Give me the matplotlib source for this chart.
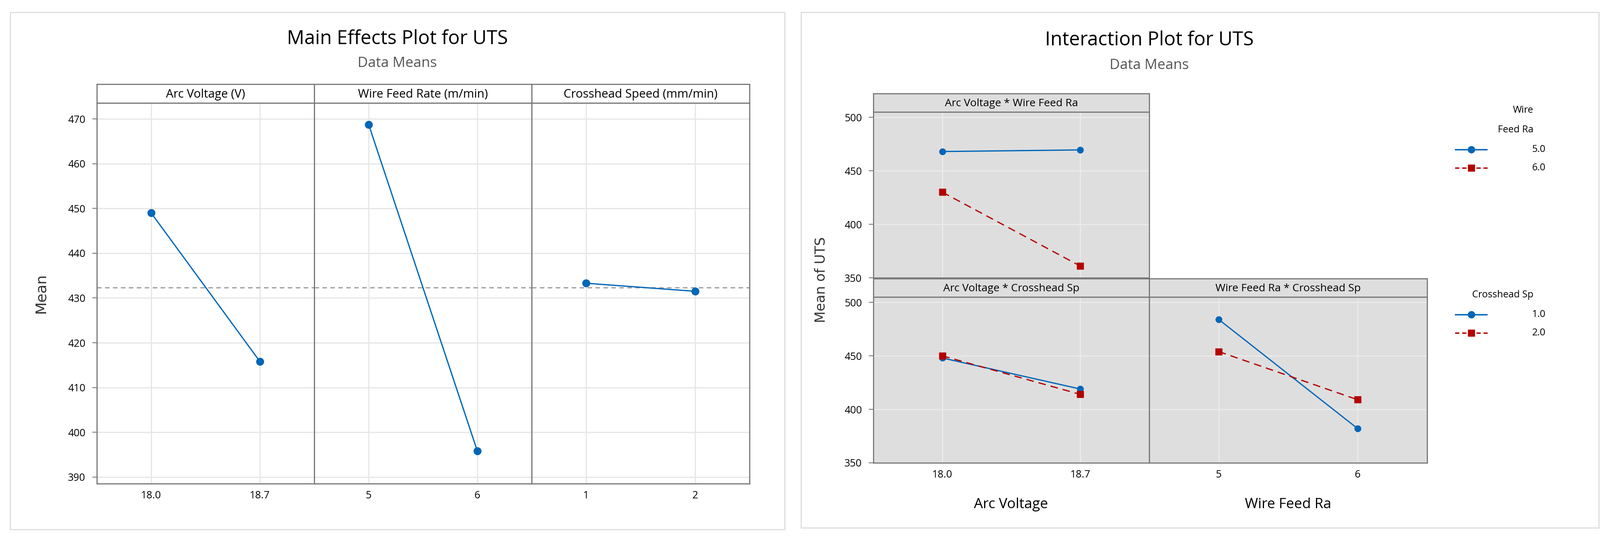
import matplotlib.pyplot as plt
from matplotlib.patches import Rectangle

plt.rcParams['font.family'] = 'Open Sans'

# ---- data: main effects
me_factors = ['Arc Voltage (V)', 'Wire Feed Rate (m/min)', 'Crosshead Speed (mm/min)']
me_levels = [['18.0', '18.7'], ['5', '6'], ['1', '2']]
me_means = [[449.0, 415.8], [468.8, 395.8], [433.3, 431.5]]
grand_mean = 432.3
me_yticks = [390, 400, 410, 420, 430, 440, 450, 460, 470]

# ---- data: interaction
ia_titles = ['Arc Voltage * Wire Feed Ra', 'Arc Voltage * Crosshead Sp', 'Wire Feed Ra * Crosshead Sp']
ia_xlevels = [['18.0', '18.7'], ['18.0', '18.7'], ['5', '6']]
ia_blue = [[468.0, 469.5], [448.0, 419.0], [484.0, 382.0]]
ia_red = [[430.0, 361.0], [450.0, 414.0], [454.0, 409.0]]
wire_labels = ['5.0', '6.0']
cross_labels = ['1.0', '2.0']
ia_yticks = [350, 400, 450, 500]

W, H = 3916, 1317
BLUE = '#0066B8'
RED = '#B30000'
fig = plt.figure(figsize=(W / 100, H / 100), dpi=100)


def px(x0, y0, x1, y1):
    return [x0 / W, 1 - y1 / H, (x1 - x0) / W, (y1 - y0) / H]


# outer borders
for (x0, y0, x1, y1) in [(25, 30, 1920, 1296), (1960, 30, 3912, 1292)]:
    fig.patches.append(Rectangle((x0 / W, 1 - y1 / H), (x1 - x0) / W, (y1 - y0) / H,
                                 transform=fig.transFigure, fill=False, ec='#DDDDDD', lw=2))

# ---------------- main effects
fig.text(972 / W, 1 - 95 / H, 'Main Effects Plot for UTS', ha='center', va='center', fontsize=34)
fig.text(972 / W, 1 - 155 / H, 'Data Means', ha='center', va='center', fontsize=25, color='#555555')
fig.text(100 / W, 1 - 718 / H, 'Mean', rotation=90, ha='center', va='center', fontsize=26,
         family='DejaVu Sans', color='#333333')

px_edges = [237, 769, 1301, 1834]
for i in range(3):
    ax = fig.add_axes(px(px_edges[i], 252, px_edges[i + 1], 1184))
    ax.plot([0, 1], me_means[i], color=BLUE, lw=2.2, marker='o', ms=13, zorder=3)
    ax.axhline(grand_mean, color='#999999', ls=(0, (4, 3)), lw=2)
    ax.set_xlim(-0.5, 1.5)
    ax.set_ylim(388.5, 473.6)
    ax.set_xticks([0, 1])
    ax.set_xticklabels(me_levels[i], fontsize=18)
    ax.set_yticks(me_yticks)
    ax.grid(True, color='#E6E6E6', lw=2)
    ax.set_axisbelow(True)
    ax.tick_params(length=0, pad=12)
    if i == 0:
        ax.set_yticklabels([str(v) for v in me_yticks], fontsize=18)
        ax.tick_params(axis='y', length=8, width=1.5, color='#777777')
    else:
        ax.set_yticklabels([])
    for s in ax.spines.values():
        s.set_color('#777777')
        s.set_linewidth(2)
    st = fig.add_axes(px(px_edges[i], 206, px_edges[i + 1], 252))
    st.set_xticks([]); st.set_yticks([])
    for s in st.spines.values():
        s.set_color('#777777'); s.set_linewidth(2)
    st.text(0.5, 0.45, me_factors[i], ha='center', va='center', fontsize=21, transform=st.transAxes)

# ---------------- interaction
fig.text(2812 / W, 1 - 98 / H, 'Interaction Plot for UTS', ha='center', va='center', fontsize=34)
fig.text(2812 / W, 1 - 160 / H, 'Data Means', ha='center', va='center', fontsize=25, color='#555555')
fig.text(2010 / W, 1 - 685 / H, 'Mean of UTS', rotation=90, ha='center', va='center', fontsize=24,
         family='DejaVu Sans', color='#333333')

panels = [(2137, 2812, 274, 680, 229), (2137, 2812, 727, 1133, 682), (2812, 3492, 727, 1133, 682)]
for i, (x0, x1, y0, y1, sy) in enumerate(panels):
    ax = fig.add_axes(px(x0, y0, x1, y1))
    ax.set_facecolor('#DEDEDE')
    ax.plot([0, 1], ia_blue[i], color=BLUE, lw=2.2, marker='o', ms=11, zorder=3)
    ax.plot([0, 1], ia_red[i], color=RED, lw=2.2, ls=(0, (6, 4)), marker='s', ms=11, zorder=3)
    ax.set_xlim(-0.5, 1.5)
    ax.set_ylim(350, 505)
    ax.set_yticks(ia_yticks)
    ax.set_xticks([0, 1])
    ax.grid(True, color='#EBEBEB', lw=2)
    ax.set_axisbelow(True)
    ax.tick_params(length=0, pad=12, labelsize=18)
    if i == 2:
        ax.set_yticklabels([])
    else:
        ax.tick_params(axis='y', length=8, width=1.5, color='#777777')
    if i == 0:
        ax.set_xticklabels([])
    else:
        ax.set_xticklabels(ia_xlevels[i])
    for s in ax.spines.values():
        s.set_color('#777777'); s.set_linewidth(2)
    st = fig.add_axes(px(x0, sy, x1, y0))
    st.set_facecolor('#DEDEDE')
    st.set_xticks([]); st.set_yticks([])
    for s in st.spines.values():
        s.set_color('#777777'); s.set_linewidth(2)
    st.text(0.5, 0.45, ia_titles[i], ha='center', va='center', fontsize=19, transform=st.transAxes)

fig.text(2474 / W, 1 - 1235 / H, 'Arc Voltage', ha='center', va='center', fontsize=25)
fig.text(3152 / W, 1 - 1235 / H, 'Wire Feed Ra', ha='center', va='center', fontsize=25)

# legends
def legend(title_lines, labels, ytop):
    y = ytop
    for t in title_lines:
        fig.text(3752 / W, 1 - y / H, t, ha='right', va='center', fontsize=17)
        y += 48
    for j, lab in enumerate(labels):
        col = BLUE if j == 0 else RED
        lax = fig.add_axes(px(3560, y - 15, 3640, y + 15))
        lax.axis('off')
        lax.plot([0, 1], [0, 0], color=col, lw=2.5, ls='-' if j == 0 else (0, (3, 2)))
        lax.plot([0.5], [0], color=col, marker='o' if j == 0 else 's', ms=12)
        lax.set_xlim(0, 1); lax.set_ylim(-1, 1)
        fig.text(3782 / W, 1 - y / H, lab, ha='right', va='center', fontsize=17)
        y += 45

legend(['Wire', 'Feed Ra'], wire_labels, 270)
legend(['Crosshead Sp'], cross_labels, 722)

fig.savefig('out.png', dpi=100)
